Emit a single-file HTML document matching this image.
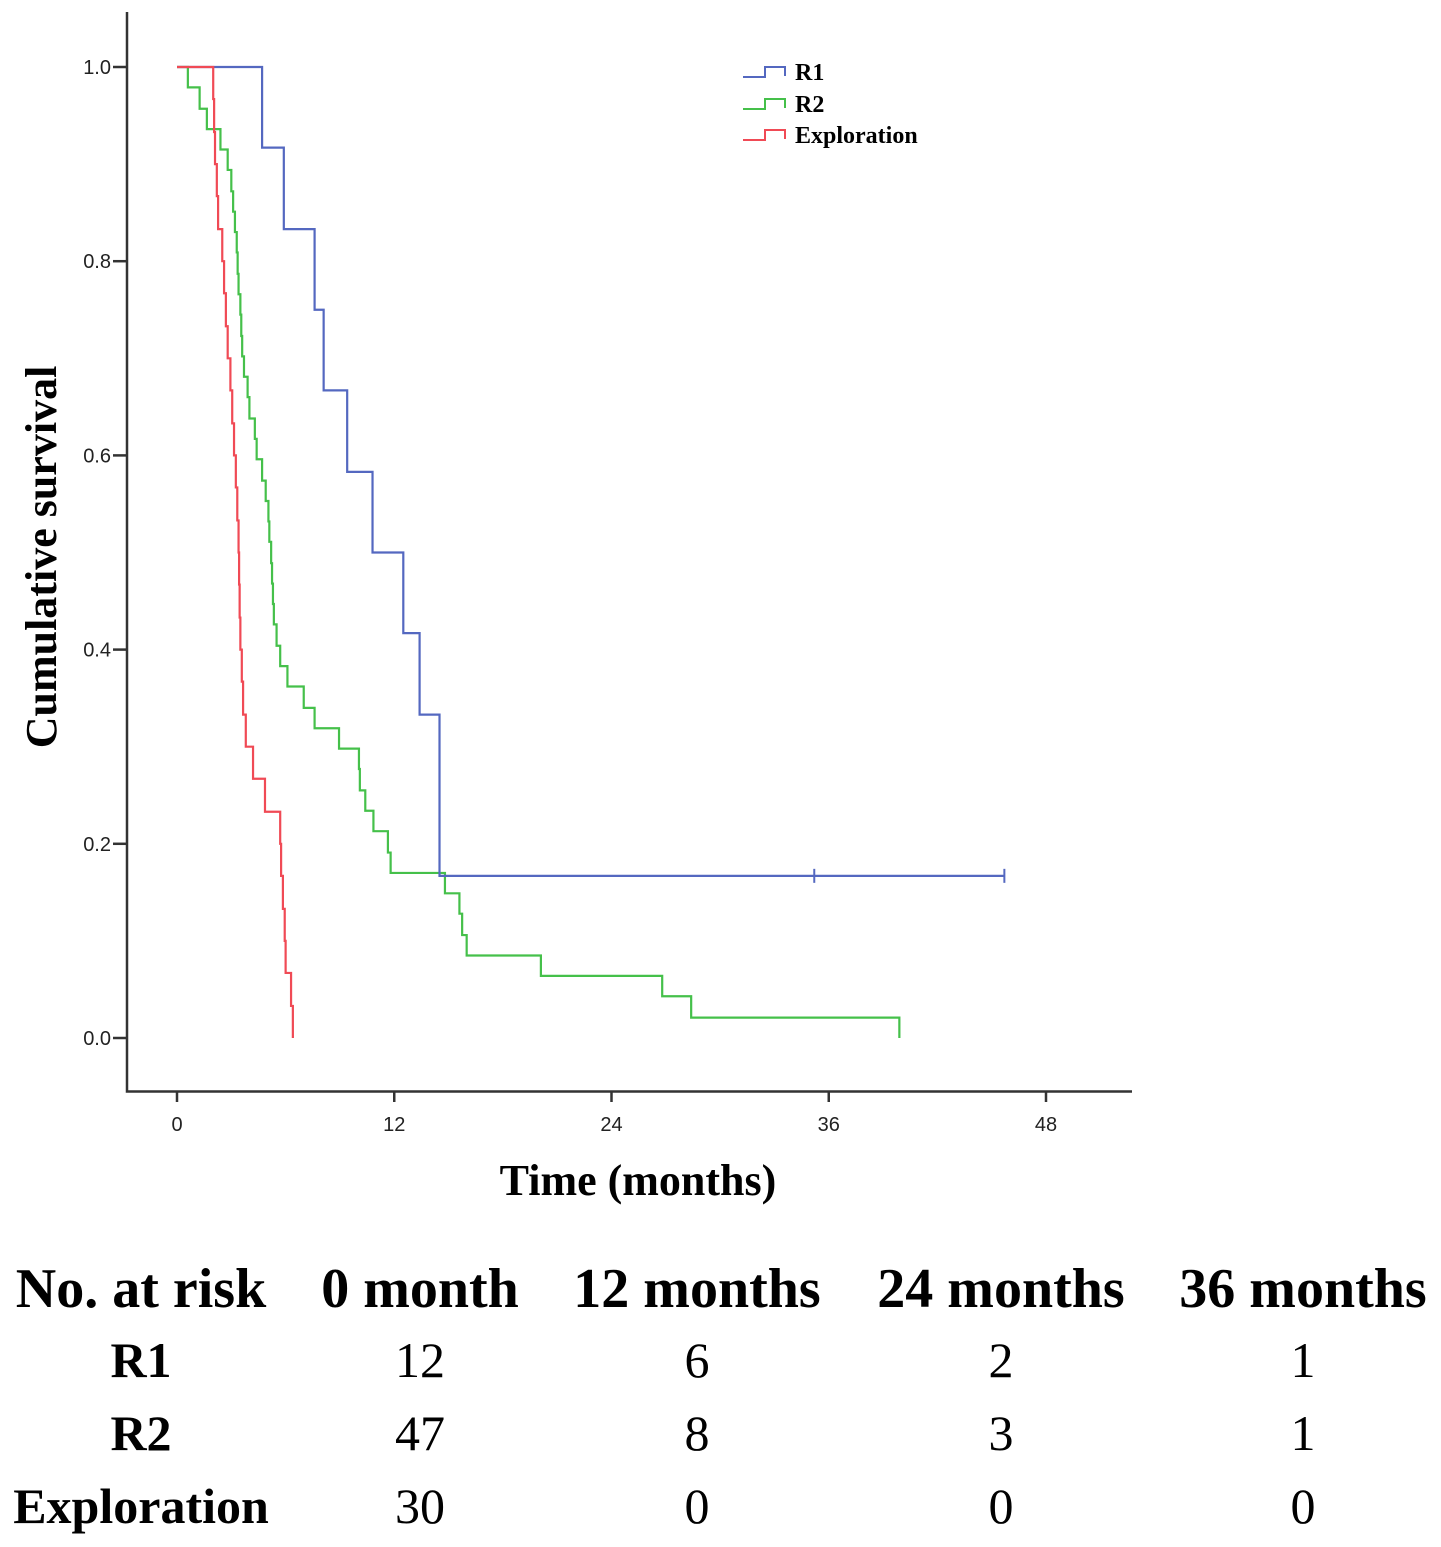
<!DOCTYPE html>
<html><head><meta charset="utf-8"><style>
body{margin:0;background:#fff;}
svg{display:block;}
</style></head><body>
<svg id="chart" width="1441" height="1547" xmlns="http://www.w3.org/2000/svg">
<g id="axes"></g>
<g id="series"></g>
<g id="legend"></g>
<text transform="translate(56,557) rotate(-90)" text-anchor="middle" font-family="Liberation Serif, serif" font-weight="bold" font-size="44">Cumulative survival</text>
<text x="638" y="1195" text-anchor="middle" font-family="Liberation Serif, serif" font-weight="bold" font-size="44">Time (months)</text>
<g id="table" font-family="Liberation Serif, serif" font-size="50" text-anchor="middle"></g>
</svg>
<script>
const xTicks=[0,12,24,36,48];
const yTicks=[0,0.2,0.4,0.6,0.8,1.0];
const r1Times=[0,4.7,5.9,7.6,8.1,9.4,10.8,12.5,13.4,14.5,45.7];
const r1Surv=[1,0.917,0.833,0.75,0.667,0.583,0.5,0.417,0.333,0.167,0.167];
const r1Censor=[35.2,45.7];
const r2Times=[0,0.6,1.25,1.65,2.4,2.8,3.0,3.1,3.2,3.3,3.35,3.4,3.5,3.55,3.6,3.7,3.9,4.0,4.3,4.4,4.7,4.9,5.05,5.1,5.2,5.25,5.3,5.35,5.5,5.7,6.1,7.0,7.6,8.95,10.05,10.1,10.4,10.85,11.65,11.8,14.8,15.6,15.75,16.0,20.1,26.8,28.4,39.9];
const r2Surv=[1,0.979,0.957,0.936,0.915,0.894,0.872,0.851,0.830,0.809,0.787,0.766,0.745,0.723,0.702,0.681,0.660,0.638,0.617,0.596,0.574,0.553,0.532,0.511,0.489,0.468,0.447,0.426,0.404,0.383,0.362,0.340,0.319,0.298,0.277,0.255,0.234,0.213,0.191,0.170,0.149,0.128,0.106,0.085,0.064,0.043,0.021,0];
const exTimes=[0,2.0,2.05,2.1,2.2,2.27,2.5,2.6,2.7,2.8,2.95,3.05,3.15,3.25,3.33,3.4,3.43,3.46,3.5,3.58,3.65,3.8,4.2,4.86,5.7,5.75,5.85,5.95,6.0,6.3,6.4];
const exSurv=[1,0.967,0.933,0.9,0.867,0.833,0.8,0.767,0.733,0.7,0.667,0.633,0.6,0.567,0.533,0.5,0.467,0.433,0.4,0.367,0.333,0.3,0.267,0.233,0.2,0.167,0.133,0.1,0.067,0.033,0];
const tableHeaders=["No. at risk","0 month","12 months","24 months","36 months"];
const tableRows=["R1","R2","Exploration"];
const tableValues=[[12,6,2,1],[47,8,3,1],[30,0,0,0]];

const NS="http://www.w3.org/2000/svg";
const X=t=>177+t*(1046-177)/48;
const Y=s=>1038-s*971;
function mk(tag,attrs,parent){const e=document.createElementNS(NS,tag);for(const k in attrs)e.setAttribute(k,attrs[k]);parent.appendChild(e);return e;}
const axes=document.getElementById('axes');
let e=mk('path',{d:'M127,12 V1091.5 H1132',fill:'none',stroke:'#333','stroke-width':2.5},axes);


yTicks.forEach(v=>{
  let t=mk('line',{x1:113,x2:127,y1:Y(v),y2:Y(v),stroke:'#333','stroke-width':2.5},axes);
  
  
  let l=mk('text',{x:111,y:Y(v)+7,'text-anchor':'end','font-family':'Liberation Sans, sans-serif','font-size':20,fill:'#222'},axes);
  l.textContent=v.toFixed(1);
  
  
});
xTicks.forEach(v=>{
  let t=mk('line',{x1:X(v),x2:X(v),y1:1091,y2:1102,stroke:'#333','stroke-width':2.5},axes);
  
  
  let l=mk('text',{x:X(v),y:1131,'text-anchor':'middle','font-family':'Liberation Sans, sans-serif','font-size':20,fill:'#222'},axes);
  l.textContent=v;
  
  
});
function stepPath(ts,ss){let d='M'+X(ts[0])+','+Y(ss[0]);for(let i=1;i<ts.length;i++){d+=' H'+X(ts[i])+' V'+Y(ss[i]);}return d;}
const ser=document.getElementById('series');
let p=mk('path',{d:stepPath(r2Times,r2Surv),fill:'none',stroke:'#45c04a','stroke-width':2.2},ser);


p=mk('path',{d:stepPath(r1Times,r1Surv),fill:'none',stroke:'#5468c0','stroke-width':2.2},ser);


p=mk('path',{d:stepPath(exTimes,exSurv),fill:'none',stroke:'#f04a55','stroke-width':2.2},ser);


r1Censor.forEach(t=>{
  let c=mk('path',{d:`M${X(t)},${Y(0.167)-7} V${Y(0.167)+7}`,stroke:'#5468c0','stroke-width':2},ser);
  
  
});
const leg=document.getElementById('legend');
[["R1","#5468c0",73],["R2","#45c04a",105],["Exploration","#f04a55",136]].forEach(([n,c,y])=>{
  let ic=mk('path',{d:`M743,${y+4} H765 V${y-6} H785 V${y+3}`,fill:'none',stroke:c,'stroke-width':2},leg);
  
  
  let t=mk('text',{x:795,y:y+7,'font-family':'Liberation Serif, serif','font-weight':'bold','font-size':24},leg);
  t.textContent=n;
  
  
});
const tb=document.getElementById('table');
const colX=[141,420,697,1001,1303];
tableHeaders.forEach((h,i)=>{
  let t=mk('text',{x:colX[i],y:1307,'font-weight':'bold','font-size':56},tb);
  t.textContent=h;
  
  
});
const rowY=[1377,1450,1523];
tableRows.forEach((r,ri)=>{
  let t=mk('text',{x:141,y:rowY[ri],'font-weight':'bold'},tb);
  t.textContent=r;
  
  
  tableValues[ri].forEach((v,ci)=>{
    let c=mk('text',{x:colX[ci+1],y:rowY[ri]},tb);
    c.textContent=v;
    
    
  });
});
</script>
</body></html>
